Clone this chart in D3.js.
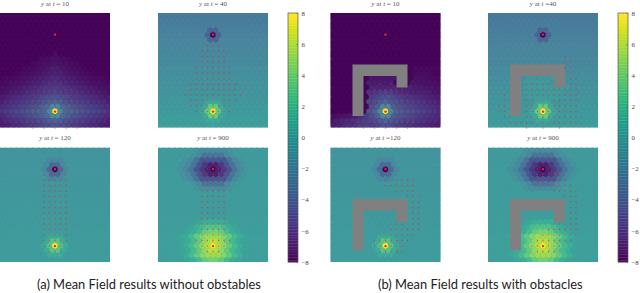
<!DOCTYPE html>
<html>
<head>
<meta charset="utf-8">
<script src="https://cdn.jsdelivr.net/npm/d3@7"></script>
<style>
  html, body { margin: 0; padding: 0; background: #fff; }
  svg { display: block; }
  .panel-title { font-family: "Liberation Serif", serif; font-size: 7px; fill: #555; text-anchor: middle; }
  .caption { font-family: Lato, sans-serif; font-size: 12.9px; fill: #222; }
  .cbar text { font-family: "Liberation Serif", serif; font-size: 6.8px; fill: #444; }
</style>
</head>
<body>
<svg id="chart" width="640" height="293"></svg>
<script>
// cell values: one base value per hex row, then patches [row, firstCol, values]
var baseA10 = [-7.9,-7.9,-7.9,-7.9,-7.9,-7.9,-7.9,-7.9,-7.9,-7.9,-7.9,-7.9,-7.9,-7.9,-7.9,-7.9,-7.9,-7.9,-7.9,-7.9,-7.9,-7.9,-7.9,-7.9];
var baseB10 = baseA10;
var baseA40 = [-2.6,-2.5,-2.4,-2.3,-2.1,-2,-1.9,-1.8,-1.7,-1.6,-1.5,-1.3,-1.2,-1.1,-1,-.9,-.8,-.6,-.5,-.4,-.3,-.1,0,.1];
var baseB40 = [-2.7,-2.6,-2.5,-2.4,-2.3,-2.2,-2.1,-2,-1.9,-1.8,-1.7,-1.6,-1.4,-1.3,-1.1,-1,-.9,-.7,-.6,-.5,-.4,-.3,-.2,-.1];
var baseA120 = [-.8,-.8,-.8,-.7,-.7,-.7,-.7,-.6,-.6,-.6,-.5,-.5,-.5,-.5,-.4,-.4,-.4,-.3,-.3,-.3,-.2,-.2,-.1,-.1];
var baseB120 = baseA120;
var baseA900 = [-.4,-.4,-.4,-.4,-.3,-.3,-.3,-.3,-.3,-.2,-.2,-.2,-.2,-.2,-.1,-.1,-.1,-.1,0,0,0,0,0,0];
var baseB900 = baseA900;

var patchA10 = [
  [8,10,[-7.6]],
  [9,7,[-7.7,-7.6,-7.5,-7.5,-7.6,-7.7]],
  [10,6,[-7.7,-7.6,-7.5,-7.4,-7.2,-7.4,-7.5,-7.6,-7.7]],
  [11,4,[-7.8,-7.7,-7.6,-7.4,-7.2,-7,-7,-7.2,-7.4,-7.6,-7.7,-7.8]],
  [12,3,[-7.8,-7.7,-7.6,-7.4,-7.3,-7.1,-6.9,-6.7,-6.9,-7.1,-7.3,-7.4,-7.6,-7.7,-7.8]],
  [13,0,[-7.8,-7.7,-7.7,-7.6,-7.4,-7.3,-7.1,-6.9,-6.7,-6.4,-6.4,-6.7,-6.9,-7.1,-7.3,-7.4,-7.6,-7.7,-7.7,-7.8]],
  [14,0,[-7.7,-7.6,-7.5,-7.4,-7.3,-7.1,-6.9,-6.7,-6.4,-6.2,-6,-6.2,-6.4,-6.7,-6.9,-7.1,-7.3,-7.4,-7.5,-7.6,-7.7]],
  [15,0,[-7.5,-7.4,-7.2,-7.1,-6.8,-6.6,-6.4,-6.1,-5.8,-5.6,-5.6,-5.8,-6.1,-6.4,-6.6,-6.8,-7.1,-7.2,-7.4,-7.5]],
  [16,0,[-7.4,-7.2,-7,-6.8,-6.6,-6.3,-6,-5.8,-5.5,-5.2,-5,-5.2,-5.5,-5.8,-6,-6.3,-6.6,-6.8,-7,-7.2,-7.4]],
  [17,0,[-7,-6.8,-6.5,-6.3,-6,-5.7,-5.5,-5.1,-4.8,-4.5,-4.5,-4.8,-5.1,-5.5,-5.7,-6,-6.3,-6.5,-6.8,-7]],
  [18,0,[-6.8,-6.5,-6.2,-6,-5.7,-5.4,-5.1,-4.8,-4.4,-4,-3.6,-4,-4.4,-4.8,-5.1,-5.4,-5.7,-6,-6.2,-6.5,-6.8]],
  [19,0,[-6.3,-6,-5.6,-5.4,-5.1,-4.8,-4.4,-3.9,-3.4,-1.8,-1.8,-3.4,-3.9,-4.4,-4.8,-5.1,-5.4,-5.6,-6,-6.3]],
  [20,0,[-5.9,-5.6,-5.3,-5,-4.7,-4.4,-3.9,-3.7,-3.5,-1.2,8,-1.2,-3.5,-3.7,-3.9,-4.4,-4.7,-5,-5.3,-5.6,-5.9]],
  [21,0,[-6.3,-6,-5.6,-5.4,-5.1,-4.8,-4.4,-3.9,-3.4,-1.8,-1.8,-3.4,-3.9,-4.4,-4.8,-5.1,-5.4,-5.6,-6,-6.3]],
  [22,0,[-6.8,-6.5,-6.2,-6,-5.7,-5.4,-5.1,-4.8,-4.4,-4,-3.6,-4,-4.4,-4.8,-5.1,-5.4,-5.7,-6,-6.2,-6.5,-6.8]],
  [23,0,[-7,-6.8,-6.5,-6.3,-6,-5.7,-5.5,-5.1,-4.8,-4.5,-4.5,-4.8,-5.1,-5.5,-5.7,-6,-6.3,-6.5,-6.8,-7]]
];

var patchB10 = [
  [11,15,[-7.7,-7.7,-7.7,-7.7,-7.7]],
  [12,15,[-7.7,-7.6,-7.6,-7.7,-7.8,-7.8]],
  [13,7,[-7.2,-7.2,-7.2,-7.2,-7.2]],
  [13,15,[-7.5,-7.5,-7.6,-7.6,-7.7]],
  [14,7,[-7,-7,-7,-7,-7]],
  [14,15,[-7.2,-7.2,-7.4,-7.5,-7.5,-7.6]],
  [15,7,[-6.6,-6.6,-6.6,-6.6,-6.6,-6.8,-6.8,-6.8,-7,-7.1,-7.2,-7.3,-7.4]],
  [16,7,[-6,-5.8,-5.5,-5.2,-5.5,-5.9,-6.2,-6.4,-6.6,-6.7,-6.9,-7,-7.2,-7.3]],
  [17,7,[-5.5,-5.1,-4.6,-4.6,-5,-5.4,-5.7,-5.9,-6.2,-6.4,-6.6,-6.8,-7]],
  [18,7,[-5.1,-4.7,-4.2,-3.6,-4.2,-4.6,-4.9,-5.2,-5.5,-5.8,-6,-6.3,-6.5,-6.7]],
  [19,7,[-4.7,-3.9,-1.8,-1.8,-3.9,-4.4,-4.7,-5.1,-5.4,-5.6,-5.9,-6.2,-6.4]],
  [20,7,[-4.5,-3.8,-1.2,8,-1.2,-3.7,-4,-4.4,-4.7,-5,-5.3,-5.6,-5.9,-6.1]],
  [21,0,[-7.6,-7.5,-7.4,-7.2,-6.8,-6.2,-5.5,-4.7,-3.9,-1.8,-1.8,-3.9,-4.4,-4.7,-5.1,-5.4,-5.6,-5.9,-6.2,-6.4]],
  [22,0,[-7.2,-7,-6.8,-6.5,-6.2,-5.8,-5.4,-5.1,-4.7,-4.2,-3.6,-4.2,-4.6,-4.9,-5.2,-5.5,-5.8,-6,-6.3,-6.5,-6.7]],
  [23,0,[-7,-6.8,-6.5,-6.2,-5.9,-5.5,-5.2,-5.5,-5.1,-4.6,-4.6,-5,-5.4,-5.7,-5.9,-6.2,-6.4,-6.6,-6.8,-7]]
];

var spots40 = [
  [3,9,[-3.6,-3.6]],
  [4,9,[-3.6,-8,-3.6]],
  [5,9,[-3.6,-3.6]],
  [18,9,[.8,.8,.8]],
  [19,8,[.8,3.5,3.5,.8]],
  [20,8,[.8,3.5,8,3.5,.8]],
  [21,8,[.8,3.5,3.5,.8]],
  [22,9,[.8,.8,.8]]
];
var interiorB40 = [
  [13,7,[-.6,-.6,-.5,-.5,-.5]],
  [14,7,[-.5,-.5,-.4,-.4,-.4]],
  [15,7,[-.3,-.3,-.3,-.3,-.3,-.4,-.4,-.4]],
  [16,7,[-.2,-.2,-.2,-.2,-.2,-.3,-.3]],
  [17,7,[-.1,-.1,-.1,-.1,-.1,-.2]]
];
var spots120 = [
  [2,9,[-1.8,-1.8,-1.8]],
  [3,8,[-1.8,-3.4,-3.4,-1.8]],
  [4,8,[-1.8,-3.4,-8,-3.4,-1.8]],
  [5,8,[-1.8,-3.4,-3.4,-1.8]],
  [6,9,[-1.8,-1.8,-1.8]],
  [18,9,[.9,.9,.9]],
  [19,8,[.9,3,3,.9]],
  [20,8,[.9,3,8,3,.9]],
  [21,8,[.9,3,3,.9]],
  [22,9,[.9,.9,.9]]
];
var blobs900 = [
  [0,7,[-.9,-1.4,-1.6,-1.6,-1.6,-1.4,-.9]],
  [1,6,[-1,-1.8,-2.9,-2.9,-2.9,-2.9,-1.8,-1]],
  [2,5,[-1,-1.8,-3,-4.4,-4.4,-4.4,-4.4,-4.4,-3,-1.8,-1]],
  [3,4,[-1,-1.8,-3,-4.4,-5.8,-6.8,-6.8,-5.8,-4.4,-3,-1.8,-1]],
  [4,4,[-1,-1.8,-3,-4.4,-5.8,-6.8,-8,-6.8,-5.8,-4.4,-3,-1.8,-1]],
  [5,4,[-1,-1.8,-3,-4.4,-5.8,-6.8,-6.8,-5.8,-4.4,-3,-1.8,-1]],
  [6,5,[-1,-1.8,-3,-4.4,-4.4,-4.4,-4.4,-4.4,-3,-1.8,-1]],
  [7,6,[-1,-1.8,-2.9,-2.9,-2.9,-2.9,-1.8,-1]],
  [8,7,[-.9,-1.4,-1.6,-1.6,-1.6,-1.4,-.9]],
  [15,7,[.4,1,1.2,1.2,1,.4]],
  [16,6,[.4,1.2,2.2,2.8,2.8,2.8,2.2,1.2,.4]],
  [17,5,[.5,1.2,2.2,3.5,4,4,3.5,2.2,1.2,.5]],
  [18,4,[.4,1.2,2.2,3.5,4.6,5.4,5.4,5.4,4.6,3.5,2.2,1.2,.4]],
  [19,4,[.4,1.2,2.2,3.5,5,6,6,5,3.5,2.2,1.2,.4]],
  [20,4,[.4,1.2,2.2,3.5,5,6,8,6,5,3.5,2.2,1.2,.4]],
  [21,4,[.4,1.2,2.2,3.5,5,6,6,5,3.5,2.2,1.2,.4]],
  [22,4,[.4,1.2,2.2,3.5,4.6,5.4,5.4,5.4,4.6,3.5,2.2,1.2,.4]],
  [23,5,[.5,1.2,2.2,3.5,4,4,3.5,2.2,1.2,.5]]
];

// agents: [grid row, columns relative to the centre line]
var dotsA10 = [[4,[0]],[13,[-1,1]],[14,[-3,-2,-1,0,1,2,3]],[15,[-4,-3,-2,-1,0,1,2,3,4]],[16,[-4,-3,-2,-1,0,1,2,3,4]],[17,[-5,-4,-3,-2,-1,0,1,2,3,4,5]],[18,[-5,-4,-3,-2,-1,0,1,2,3,4,5]],[19,[-5,-4,-3,-2,-1,0,1,2,3,4,5]],[20,[-5,-4,-3,-2,-1,0,1,2,3,4,5]],[21,[-4,-2,0,2,4]]];
var dotsA40 = [[4,[0]],[5,[-1,0,1]],[6,[-1,0,1]],[7,[-2,-1,0,1,2]],[8,[-2,-1,0,1,2]],[9,[-2,-1,0,1,2]],[10,[-3,-2,-1,0,1,2,3]],[11,[-3,-2,-1,0,1,2,3]],[12,[-3,-2,-1,0,1,2,3]],[13,[-4,-3,-2,-1,0,1,2,3,4]],[14,[-4,-3,-2,-1,0,1,2,3,4]],[15,[-5,-4,-3,-2,-1,0,1,2,3,4,5]],[16,[-4,-3,-2,-1,0,1,2,3,4]],[17,[-4,-3,-2,-1,0,1,2,3]],[18,[-3,-2,-1,0,1,2,3]],[19,[-1,0,1]]];
var dotsA120 = [[4,[-1,0,1]],[5,[-2,-1,0,1,2]],[6,[-2,-1,0,1,2]],[7,[-2,-1,0,1,2]],[8,[-2,-1,0,1,2]],[9,[-2,-1,0,1,2]],[10,[-2,-1,0,1,2]],[11,[-2,-1,0,1,2]],[12,[-2,-1,0,1,2]],[13,[-2,-1,0,1,2]],[14,[-2,-1,0,1,2]],[15,[-2,-1,0,1,2]],[16,[-2,-1,0,1,2]],[17,[-2,-1,0,1,2]],[18,[-2,-1,0,1]],[19,[-1,0,1]]];
var dotsA900 = [[3,[0]],[4,[-1,0,1,2]],[5,[-2,-1,0,1,2]],[6,[-2,-1,0,1,2]],[7,[-2,-1,0,1,2]],[8,[-2,-1,0,1,2]],[9,[-2,-1,0,1,2]],[10,[-2,-1,0,1,2]],[11,[-2,-1,0,1,2]],[12,[-2,-1,0,1,2]],[13,[-2,-1,0,1,2]],[14,[-2,-1,0,1,2]],[15,[-2,-1,0,1,2]],[16,[-2,-1,0,1,2]],[17,[-3,-2,-1,0,1,2,3]],[18,[-2,-1,0,1,2]],[19,[-1,0,1]]];
var dotsB10 = [[4,[0]],[13,[-1,1]],[14,[-2,-1,0,1,2,3]],[15,[-3,-2,-1,0,1,2,3,4]],[16,[-3,-2,-1,0,1,2,3,4]],[17,[-3,-2,-1,0,1,2,3,4,5]],[18,[-3,-2,-1,0,1,2,3,4,5]],[19,[-3,-2,-1,0,1,2,3,4,5]],[20,[-5,-4,-3,-2,-1,0,1,2,3,4,5]],[21,[-4,-2,0,2,4]]];
var dotsB40 = [[4,[0]],[8,[4]],[9,[4,5]],[10,[4,5]],[11,[5]],[12,[-1,5,6]],[13,[-3,-2,-1,0,1,5,6]],[14,[-3,-2,-1,0,1,2,3,4,5,6]],[15,[-7,-3,-2,-1,0,1,2,3,4,5,6]],[16,[-7,-3,-2,-1,0,1,2,3,4,5,6]],[17,[-8,-7,-3,-2,-1,0,1,2,3,4,5,6]],[18,[-8,-7,-3,-2,-1,0,1,2,3,4,5,6]],[19,[-7,-6,-3,-2,-1,0,1,2,3,4,5,6,7]],[20,[-6,-5,-4,-3,-2,0,1,2,3,4,5,6]],[21,[-3,0,3]]];
var dotsB120 = [[4,[0]],[5,[1,2]],[6,[0,2,3,4,5]],[7,[0,1,2,3,4,5]],[8,[2,3,4,5]],[9,[4,5,6]],[10,[5,6]],[11,[5,6]],[12,[5,6]],[13,[5,6]],[14,[2,3,5,6]],[15,[1,2,3,4,5,6]],[16,[-1,0,1,2,3,4,5]],[17,[-2,-1,0,1,2,3,4]],[18,[-2,-1,0,1,2,3]],[19,[-1,0,1,2,3]]];
var dotsB900 = [[3,[0]],[4,[-1,0,1,2]],[5,[-1,0,1,2,3]],[6,[-1,0,1,2,3,4]],[7,[-1,0,1,2,3,4,5]],[8,[2,3,4,5,6]],[9,[4,5,6]],[10,[5,6]],[11,[5,6]],[12,[5,6]],[13,[5,6]],[14,[2,3,4,5,6]],[15,[1,2,3,4,5,6]],[16,[0,1,2,3,4,5,6]],[17,[-1,0,1,2,3,4,5]],[18,[-2,-1,0,1,2,3]],[19,[-1,0,1,2]]];

var targetCell = [4, 0];
var startCell = [18, 0];

// obstacle outline in domain units (0-20 each way)
var obstacleX = [4,14,14,12,12,6,6,4];
var obstacleY = [9,9,13,13,11,11,18,18];

var colorbarTicks = [-8,-6,-4,-2,0,2,4,6,8];
var captions = ["(a) Mean Field results without obstables", "(b) Mean Field results with obstacles"];

var panels = [
  {title: "= 10",  x: 0,     y: 13,    base: baseA10,  patches: patchA10, dots: dotsA10},
  {title: "= 40",  x: 158,   y: 13,    base: baseA40,  patches: spots40, dots: dotsA40},
  {title: "= 120", x: 0,     y: 147.5, base: baseA120, patches: spots120, dots: dotsA120},
  {title: "= 900", x: 158,   y: 147.5, base: baseA900, patches: blobs900, dots: dotsA900},
  {title: "= 10",  x: 330.5, y: 13,    base: baseB10,  patches: patchB10, dots: dotsB10, obstacle: true},
  {title: "=40",   x: 488,   y: 13,    base: baseB40,  patches: interiorB40.concat(spots40), dots: dotsB40, obstacle: true},
  {title: "=120",  x: 330.5, y: 147.5, base: baseB120, patches: spots120, dots: dotsB120, obstacle: true},
  {title: "= 900", x: 488,   y: 147.5, base: baseB900, patches: blobs900, dots: dotsB900, obstacle: true}
];

var svg = d3.select("#chart"),
    panelW = 110,
    panelH = 114.5,
    hexW = 5.5,
    hexStep = 4.77,
    hexR = hexW / Math.sqrt(3);

var viridis = d3.scaleSequential(d3.interpolateViridis).domain([-8, 8]);
// the heatmap is a little paler than the colorbar, except at the dark and bright ends
var washAmount = d3.scaleLinear().domain([-8, -5, -2, 5, 8]).range([0.01, 0.04, 0.14, 0.12, 0]).clamp(true);
var washed = v => d3.interpolateRgb(viridis(v), "#fff")(washAmount(v));

var hexPath = function(cx, cy) {
  var p = d3.path();
  d3.range(6).forEach(i => {
    var a = Math.PI / 3 * i;
    var px = cx + hexR * Math.sin(a), py = cy - hexR * Math.cos(a);
    if (i == 0) p.moveTo(px, py); else p.lineTo(px, py);
  });
  p.closePath();
  return p.toString();
};

var defs = svg.append("defs");

panels.forEach((panel, idx) => {
  // expand base + patches into one cell per hex
  var cells = [];
  panel.base.forEach((v, row) => {
    d3.range(row % 2 ? 20 : 21).forEach(col => cells.push({row: row, col: col, v: v}));
  });
  var lookup = new Map(cells.map(c => [c.row + "_" + c.col, c]));
  panel.patches.forEach(p => {
    p[2].forEach((v, k) => {
      var c = lookup.get(p[0] + "_" + (p[1] + k));
      if (c) c.v = v;
    });
  });

  var x = d3.scaleLinear().domain([0, 20]).range([0, panelW]);
  var y = d3.scaleLinear().domain([0, 20]).range([0, panelH]);
  var rowY = d3.scaleLinear().domain([0, 23]).range([3, 3 + 23 * hexStep]);
  var dotX = d3.scaleLinear().domain([-10, 10]).range([0, panelW]);
  var dotY = d3.scaleLinear().domain([0, 20]).range([-0.4, 109.6]);

  defs.append("clipPath").attr("id", "clip" + idx)
    .append("rect").attr("width", panelW).attr("height", panelH);

  var g = svg.append("g").attr("transform", "translate(" + panel.x + "," + panel.y + ")");

  var field = g.append("g").attr("clip-path", "url(#clip" + idx + ")");
  field.append("rect")
    .attr("width", panelW).attr("height", panelH)
    .attr("fill", washed(panel.base[0]));
  field.selectAll("path.hex")
    .data(cells)
    .enter().append("path")
    .attr("class", "hex")
    .attr("d", d => hexPath(x(d.col + (d.row % 2 ? 0.5 : 0)), rowY(d.row)))
    .attr("fill", d => washed(d.v))
    .attr("stroke", d => washed(d.v))
    .attr("stroke-width", 0.3);

  if (panel.obstacle) {
    g.append("path")
      .attr("d", d3.line().x(d => x(d[0])).y(d => y(d[1]))(d3.zip(obstacleX, obstacleY)) + "Z")
      .attr("fill", "#808080");
  }

  var dots = [];
  panel.dots.forEach(r => r[1].forEach(c => dots.push({row: r[0], col: c})));
  g.selectAll("circle.agent")
    .data(dots)
    .enter().append("circle")
    .attr("class", "agent")
    .attr("cx", d => dotX(d.col))
    .attr("cy", d => dotY(d.row))
    .attr("r", 0.75)
    .attr("fill", "#e8262d")
    .attr("fill-opacity", 0.62);

  // denser clumps sitting on the start and target cells
  g.selectAll("circle.clump")
    .data([targetCell, startCell])
    .enter().append("circle")
    .attr("class", "clump")
    .attr("cx", d => dotX(d[1]))
    .attr("cy", d => dotY(d[0]))
    .attr("r", 1.2)
    .attr("fill", "#e8262d");

  var title = g.append("text").attr("class", "panel-title")
    .attr("x", panelW / 2).attr("y", -7.5);
  title.append("tspan").attr("font-style", "italic").text("y");
  title.append("tspan").text(" at ");
  title.append("tspan").attr("font-style", "italic").text("t");
  title.append("tspan").text(" " + panel.title);
});

// colorbars
var cbarScale = d3.scaleLinear().domain([-8, 8]).range([262, 13]);
var levels = d3.range(-8, 8, 0.1);
[288, 618].forEach(cx => {
  var cb = svg.append("g").attr("transform", "translate(" + cx + ",0)");
  cb.selectAll("rect.level")
    .data(levels)
    .enter().append("rect")
    .attr("class", "level")
    .attr("width", 10)
    .attr("y", d => cbarScale(d + 0.1))
    .attr("height", d => cbarScale(d) - cbarScale(d + 0.1) + 0.3)
    .attr("fill", d => viridis(d + 0.05));
  cb.append("rect")
    .attr("y", 13).attr("width", 10).attr("height", 249)
    .attr("fill", "none").attr("stroke", "#555").attr("stroke-width", 0.7);

  var axis = cb.append("g")
    .attr("class", "cbar")
    .attr("transform", "translate(10,0)")
    .call(d3.axisRight(cbarScale).tickValues(colorbarTicks).tickSize(-1.5).tickPadding(3.5));
  axis.select(".domain").remove();
  axis.selectAll("line").attr("stroke", "#555").attr("stroke-width", 0.5);
});

svg.selectAll("text.caption")
  .data(captions)
  .enter().append("text")
  .attr("class", "caption")
  .attr("x", (d, i) => i ? 378 : 37)
  .attr("y", 289)
  .text(d => d);
</script>
</body>
</html>
